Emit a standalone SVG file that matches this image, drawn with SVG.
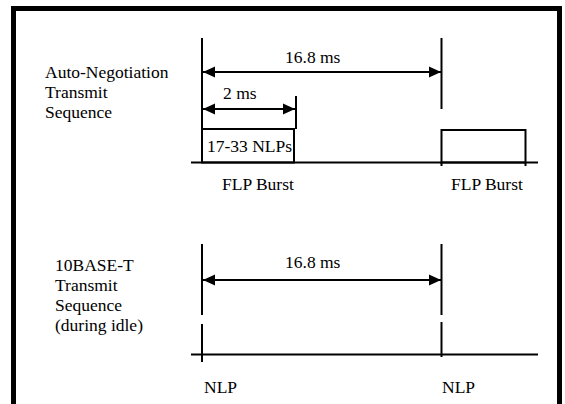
<svg xmlns="http://www.w3.org/2000/svg" width="565" height="404" viewBox="0 0 565 404">
<rect width="565" height="404" fill="#fff"/>
<g id="labels">
<text x="45" y="78" font-family="Liberation Serif" font-size="17.5">Auto-Negotiation</text>
<text x="45" y="98" font-family="Liberation Serif" font-size="17.5">Transmit</text>
<text x="45" y="118" font-family="Liberation Serif" font-size="17.5">Sequence</text>
<text x="55" y="271" font-family="Liberation Serif" font-size="17.5">10BASE-T</text>
<text x="55" y="291" font-family="Liberation Serif" font-size="17.5">Transmit</text>
<text x="55" y="311" font-family="Liberation Serif" font-size="17.5">Sequence</text>
<text x="55" y="331" font-family="Liberation Serif" font-size="17.5">(during idle)</text>
</g>
<g id="frame">
<path d="M13.5,404 V8.5 H559.5 V404" fill="none" stroke="#000" stroke-width="5"/>
<rect x="558" y="6" width="3" height="398" fill="#000"/>
</g>
<g id="burst1">
<text x="207" y="152" font-family="Liberation Serif" font-size="17.5">17-33 NLPs</text>
<text x="222" y="190" font-family="Liberation Serif" font-size="17.5">FLP Burst</text>
<rect x="202" y="129" width="92" height="33.5" stroke="#000" stroke-width="2" fill="none"/>
</g>
<g id="burst2">
<text x="451" y="190" font-family="Liberation Serif" font-size="17.5">FLP Burst</text>
<rect x="441.5" y="130" width="84" height="32.5" stroke="#000" stroke-width="2" fill="none"/>
<path d="M441.5,162 V166 M525.5,162 V166" stroke="#000" stroke-width="2" fill="none"/>
</g>
<g id="nlp1">
<text x="204" y="393" font-family="Liberation Serif" font-size="17.5">NLP</text>
<path d="M202,324 V362" stroke="#000" stroke-width="2" fill="none"/>
</g>
<g id="nlp2">
<text x="442" y="393" font-family="Liberation Serif" font-size="17.5">NLP</text>
<path d="M441.5,322 V357" stroke="#000" stroke-width="2" fill="none"/>
</g>
<g id="connector-labels">
<text x="285" y="63" font-family="Liberation Serif" font-size="17.5">16.8 ms</text>
<text x="223" y="99" font-family="Liberation Serif" font-size="17.5">2 ms</text>
<text x="285" y="268" font-family="Liberation Serif" font-size="17.5">16.8 ms</text>
</g>
<g id="connectors" stroke="#000" stroke-width="2" fill="none">
<path d="M191,162.5 H538"/>
<path d="M202,38 V129"/>
<path d="M441.5,38 V109"/>
<path d="M296,96 V129"/>
<path d="M203,72 H441" marker-start="url(#ah)" marker-end="url(#ah)"/>
<path d="M203,109 H295" marker-start="url(#ah)" marker-end="url(#ah)"/>
<path d="M191,354.5 H538"/>
<path d="M202,244 V315"/>
<path d="M441.5,244 V315"/>
<path d="M203,280 H441" marker-start="url(#ah)" marker-end="url(#ah)"/>
</g>
<defs>
<marker id="ah" viewBox="0 0 12 12" refX="12" refY="6" markerWidth="12" markerHeight="12" markerUnits="userSpaceOnUse" orient="auto-start-reverse">
<path d="M0,0.5 L12,6 L0,11.5 Z" fill="#000"/>
</marker>
</defs>
</svg>
